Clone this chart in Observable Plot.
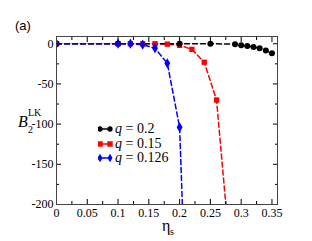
<!DOCTYPE html>
<html><head><meta charset="utf-8">
<script src="https://cdn.jsdelivr.net/npm/d3@7"></script>
<script src="https://cdn.jsdelivr.net/npm/@observablehq/plot@0.6"></script>
<style>
body{margin:0;background:#fff;}
#wrap{position:relative;width:312px;height:241px;font-family:"Liberation Serif","Times New Roman",serif;color:#000;}
#wrap > svg{position:absolute;left:0;top:0;}
.ov{position:absolute;white-space:nowrap;line-height:1;}
.leg{position:absolute;left:98px;font-size:14px;line-height:1;display:flex;align-items:center;}
.leg svg{margin-right:1px;}
</style></head><body>
<div id="wrap"></div>
<script>
const seriesNames = ["q = 0.2", "q = 0.15", "q = 0.126"];
const seriesColors = ["#000000", "#ff0000", "#0000ff"];
const seriesSymbols = ["circle", "square", "diamond"];
const etaBlack = [0, 0.1, 0.2, 0.25, 0.29, 0.30, 0.31, 0.32, 0.33, 0.34, 0.35];
const b2Black  = [0, 0, 0, 0, -0.6, -1.9, -2.7, -4.0, -5.6, -8.5, -11.8];
const etaRed = [0, 0.1, 0.12, 0.14, 0.16, 0.18, 0.2, 0.22, 0.24, 0.26, 0.28];
const b2Red  = [0, 0, 0, 0, 0, -0.5, -2, -7, -23, -70, -243];
const etaBlue = [0, 0.1, 0.12, 0.14, 0.16, 0.18, 0.2, 0.21];
const b2Blue  = [0, 0, 0, -1.2, -5.6, -24.3, -104, -320];
const xTicks = [0, 0.05, 0.1, 0.15, 0.2, 0.25, 0.3, 0.35];
const xTickLabels = ["0", "0.05", "0.1", "0.15", "0.2", "0.25", "0.3", "0.35"];
const xMinor = [0.025, 0.075, 0.125, 0.175, 0.225, 0.275, 0.325];
const yTicks = [0, -50, -100, -150, -200];
const yTickLabels = ["0", "-50", "-100", "-150", "-200"];
const yMinor = [-25, -75, -125, -175];

const tbl = (xs, ys) => xs.map((x, i) => ({eta: x, b2: ys[i]}));
const series = [tbl(etaBlack, b2Black), tbl(etaRed, b2Red), tbl(etaBlue, b2Blue)];
const order = [1, 0, 2];
const sizes = {circle: 3, square: 3, diamond: 3.1};

const marks = [];
for (const k of order) {
  marks.push(Plot.line(series[k], {x: "eta", y: "b2", stroke: seriesColors[k], strokeWidth: 1.5, strokeDasharray: "5,3", clip: true}));
}
for (const k of order) {
  marks.push(Plot.dot(series[k], {x: "eta", y: "b2", symbol: seriesSymbols[k], fill: seriesColors[k], stroke: "none", r: sizes[seriesSymbols[k]], clip: true}));
}
const blank = () => "";
const serif = "Liberation Serif";
const chart = Plot.plot({
  width: 312, height: 241,
  marginLeft: 56, marginRight: 35, marginTop: 36, marginBottom: 37,
  x: {domain: [0, 0.359]},
  y: {domain: [-200, 9]},
  style: {fontSize: "12px", fontFamily: serif, color: "#000", background: "transparent"},
  marks: [
    ...marks,
    Plot.axisX({anchor: "bottom", ticks: xTicks, tickFormat: (d, i) => xTickLabels[i], tickSize: 0, tickPadding: 4, label: null, fontFamily: serif, fontSize: 12}),
    Plot.axisX({anchor: "bottom", ticks: xTicks, tickFormat: blank, tickSize: -5, label: null}),
    Plot.axisX({anchor: "bottom", ticks: xMinor, tickFormat: blank, tickSize: -3, label: null}),
    Plot.axisX({anchor: "top", ticks: xTicks, tickFormat: blank, tickSize: -5, label: null}),
    Plot.axisX({anchor: "top", ticks: xMinor, tickFormat: blank, tickSize: -3, label: null}),
    Plot.axisY({anchor: "left", ticks: yTicks, tickFormat: (d, i) => yTickLabels[i], tickSize: 0, tickPadding: 3, label: null, fontFamily: serif, fontSize: 12}),
    Plot.axisY({anchor: "left", ticks: yTicks, tickFormat: blank, tickSize: -5, label: null}),
    Plot.axisY({anchor: "left", ticks: yMinor, tickFormat: blank, tickSize: -3, label: null}),
    Plot.axisY({anchor: "right", ticks: yTicks, tickFormat: blank, tickSize: -5, label: null}),
    Plot.axisY({anchor: "right", ticks: yMinor, tickFormat: blank, tickSize: -3, label: null}),
    Plot.frame({stroke: "#444", strokeWidth: 1})
  ]
});
const wrap = document.getElementById("wrap");
wrap.appendChild(chart);

function ov(html, left, top, css) {
  const d = document.createElement("div");
  d.className = "ov";
  d.innerHTML = html;
  d.style.left = left + "px";
  d.style.top = top + "px";
  if (css) d.style.cssText += css;
  wrap.appendChild(d);
}
ov("(a)", 15, 19, "font-family:'Liberation Sans',Arial,sans-serif;font-size:13px;");
ov("<i>B</i>", 18, 114, "font-size:16px;");
ov("LK", 28, 108, "font-size:10px;");
ov("2", 28, 125, "font-size:10px;");
ov("η", 162, 218, "font-size:16px;");
ov("s", 170, 227, "font-size:10px;");

const legTops = [122, 137, 151];
seriesNames.forEach((name, k) => {
  const row = document.createElement("div");
  row.className = "leg";
  row.style.top = legTops[k] + "px";
  const sym = d3.symbol(k === 0 ? d3.symbolCircle : k === 1 ? d3.symbolSquare : d3.symbolDiamond, k === 0 ? 22 : k === 1 ? 30 : 22)();
  const svg = d3.create("svg").attr("width", 16).attr("height", 14);
  svg.append("line").attr("x1", 2).attr("x2", 12).attr("y1", 7).attr("y2", 7).attr("stroke", seriesColors[k]).attr("stroke-width", 1.5);
  for (const cx of [2, 12]) svg.append("path").attr("d", sym).attr("transform", `translate(${cx},7)`).attr("fill", seriesColors[k]);
  row.appendChild(svg.node());
  const [q, rest] = [name.slice(0, 1), name.slice(1)];
  const t = document.createElement("span");
  t.innerHTML = `<i>${q}</i>${rest}`;
  row.appendChild(t);
  wrap.appendChild(row);
});
</script>
</body></html>
